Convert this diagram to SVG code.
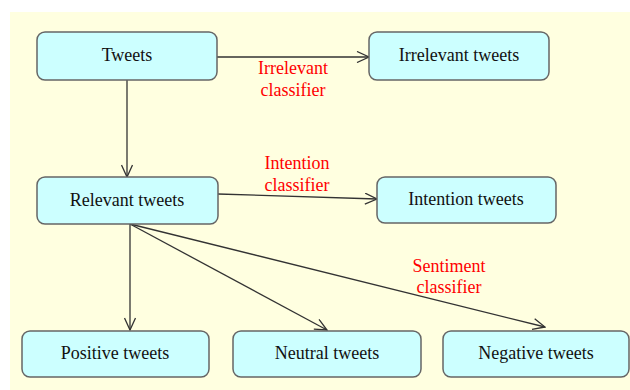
<svg xmlns="http://www.w3.org/2000/svg" width="630" height="390" viewBox="0 0 630 390">
<defs>
<marker id="arr" viewBox="0 0 14 12" refX="13" refY="6" markerWidth="14" markerHeight="12" markerUnits="userSpaceOnUse" orient="auto">
<path d="M1,0.5 L13,6 L1,11.5" fill="none" stroke="#333" stroke-width="1.3"/>
</marker>
<style>
.node rect{fill:#ccffff;stroke:#666;stroke-width:1.5}
.node text{font-family:"Liberation Serif","Times New Roman",serif;font-size:18px;fill:#111;text-anchor:middle}
.lbl{font-family:"Liberation Serif","Times New Roman",serif;font-size:18px;fill:#ff0000;text-anchor:middle}
.edges line{stroke:#333;stroke-width:1.3;marker-end:url(#arr)}
</style>
</defs>
<rect x="10" y="12" width="620" height="378" fill="#ffffe0"/>
<g class="edges">
<line x1="217" y1="57" x2="369" y2="57"/>
<line x1="127" y1="80" x2="127" y2="177"/>
<line x1="218" y1="194" x2="377" y2="199"/>
<line x1="130" y1="224" x2="130" y2="330"/>
<line x1="130" y1="224" x2="327" y2="330"/>
<line x1="130" y1="224" x2="545" y2="327"/>
</g>
<g id="tweets" class="node"><rect x="37" y="32" width="180" height="48" rx="8"/><text x="127" y="61">Tweets</text></g>
<g id="irrelevant" class="node"><rect x="369" y="32" width="180" height="48" rx="8"/><text x="459" y="61">Irrelevant tweets</text></g>
<g id="relevant" class="node"><rect x="37" y="177" width="181" height="47" rx="8"/><text x="127" y="206">Relevant tweets</text></g>
<g id="intention" class="node"><rect x="377" y="177" width="179" height="46" rx="8"/><text x="466" y="205">Intention tweets</text></g>
<g id="positive" class="node"><rect x="22" y="331" width="187" height="46" rx="8"/><text x="115" y="359">Positive tweets</text></g>
<g id="neutral" class="node"><rect x="233" y="331" width="188" height="46" rx="8"/><text x="327" y="359">Neutral tweets</text></g>
<g id="negative" class="node"><rect x="443" y="331" width="186" height="46" rx="8"/><text x="536" y="359">Negative tweets</text></g>
<g id="labels">
<text class="lbl" x="293" y="74">Irrelevant</text>
<text class="lbl" x="293" y="96">classifier</text>
<text class="lbl" x="297" y="169">Intention</text>
<text class="lbl" x="297" y="191">classifier</text>
<text class="lbl" x="449" y="272">Sentiment</text>
<text class="lbl" x="449" y="293">classifier</text>
</g>
</svg>
